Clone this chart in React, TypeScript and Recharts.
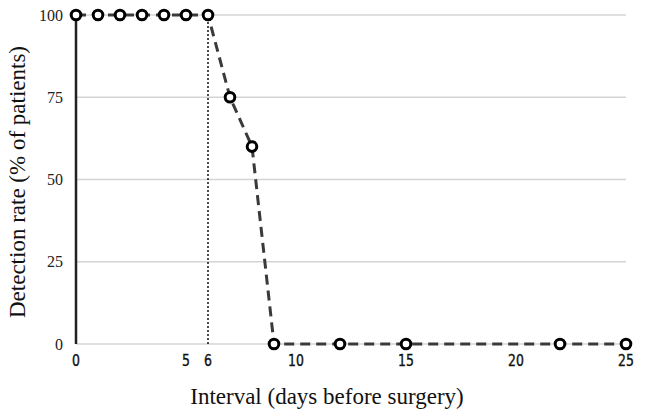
import React from 'react';
import {
  LineChart,
  Line,
  XAxis,
  YAxis,
  CartesianGrid,
  ReferenceLine,
} from 'recharts';

// days before surgery vs detection rate
const days = [0, 1, 2, 3, 4, 5, 6, 7, 8, 9, 12, 15, 22, 25];
const rate = [100, 100, 100, 100, 100, 100, 100, 75, 60, 0, 0, 0, 0, 0];
const xTicks = [0, 5, 6, 10, 15, 20, 25];
const yTicks = [0, 25, 50, 75, 100];

const data = days.map((d, i) => ({ day: d, rate: rate[i] }));

const serif = '"Liberation Serif", "Times New Roman", serif';

// narrow gothic-looking digits under the x axis
const renderXTick = (props: any) => {
  const { x, y, payload, index } = props;
  return (
    <g key={`xt-${index}`} transform={`translate(${x},${y})`}>
      <text
        transform="scale(0.78,1)"
        textAnchor="middle"
        dy={18}
        style={{ fontFamily: '"DejaVu Sans", sans-serif', fontSize: '16px' }}
        fill="#111"
        stroke="#111"
        strokeWidth={0.4}
      >
        {payload.value}
      </text>
    </g>
  );
};

export default function App() {
  return (
    <div style={{ position: 'absolute', left: 0, top: 0, width: 646, height: 413, background: 'white' }}>
      <LineChart
        width={646}
        height={413}
        data={data}
        margin={{ top: 15, right: 20, left: 0, bottom: 39 }}
      >
        <CartesianGrid horizontal vertical={false} stroke="#d4d4d4" strokeWidth={1.4} />
        <XAxis
          dataKey="day"
          type="number"
          domain={[0, 25]}
          ticks={xTicks}
          interval={0}
          height={30}
          axisLine={false}
          tickLine={false}
          tickSize={0}
          tickMargin={4}
          tick={renderXTick}
        />
        <YAxis
          type="number"
          domain={[0, 100]}
          ticks={yTicks}
          width={76}
          axisLine={{ stroke: '#222', strokeWidth: 2.5 }}
          tickLine={false}
          tickSize={0}
          tickMargin={13}
          tick={{ fontSize: 16, fontFamily: serif, fill: '#222' }}
        />
        <ReferenceLine x={6} stroke="#111" strokeWidth={1.5} strokeDasharray="2 2" />
        <Line
          type="linear"
          dataKey="rate"
          stroke="#3a3a3a"
          strokeWidth={3}
          strokeDasharray="10 6"
          dot={{ r: 4.8, fill: 'white', stroke: '#000', strokeWidth: 3, strokeDasharray: '' }}
          isAnimationActive={false}
        />
      </LineChart>
      <div
        style={{
          position: 'absolute',
          left: 0,
          width: 646,
          top: 384,
          textAlign: 'center',
          paddingLeft: 8,
          boxSizing: 'border-box',
          fontFamily: serif,
          fontSize: 23,
          color: '#111',
        }}
      >
        Interval (days before surgery)
      </div>
      <div
        style={{
          position: 'absolute',
          left: 18,
          top: 182,
          transform: 'translate(-50%, -50%) rotate(-90deg)',
          whiteSpace: 'nowrap',
          fontFamily: serif,
          fontSize: 23,
          color: '#111',
        }}
      >
        Detection rate (% of patients)
      </div>
    </div>
  );
}
